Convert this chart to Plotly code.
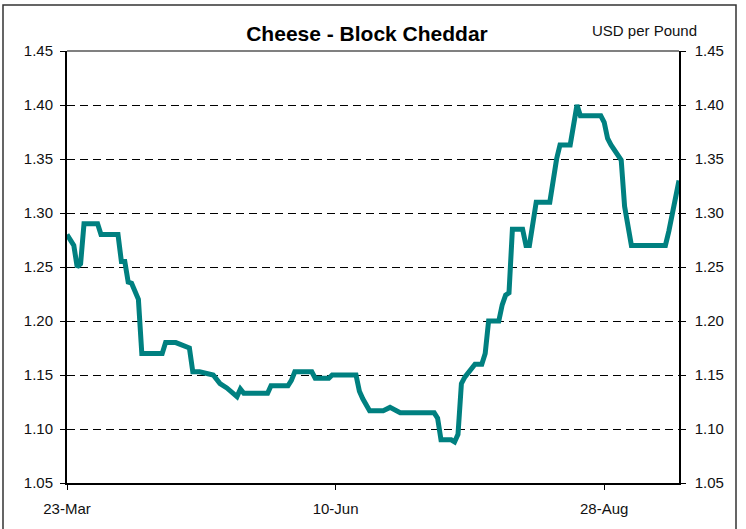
import plotly.graph_objects as go

# Data: CME block cheddar price (USD per pound), vertices
dates = [
    "2004-03-23", "2004-03-25", "2004-03-26", "2004-03-27", "2004-03-28",
    "2004-04-01", "2004-04-02", "2004-04-07", "2004-04-08", "2004-04-09",
    "2004-04-10", "2004-04-11", "2004-04-13", "2004-04-14", "2004-04-20",
    "2004-04-21", "2004-04-24", "2004-04-28", "2004-04-29", "2004-05-01",
    "2004-05-05", "2004-05-07", "2004-05-09", "2004-05-11", "2004-05-12",
    "2004-05-13", "2004-05-14", "2004-05-21", "2004-05-22", "2004-05-27",
    "2004-05-28", "2004-05-29", "2004-06-03", "2004-06-04", "2004-06-08",
    "2004-06-09", "2004-06-16", "2004-06-17", "2004-06-18", "2004-06-20",
    "2004-06-24", "2004-06-26", "2004-06-29", "2004-07-09", "2004-07-10",
    "2004-07-11", "2004-07-14", "2004-07-15", "2004-07-16", "2004-07-17",
    "2004-07-18", "2004-07-21", "2004-07-23", "2004-07-24", "2004-07-25",
    "2004-07-28", "2004-07-29", "2004-07-30", "2004-07-31", "2004-08-01",
    "2004-08-04", "2004-08-05", "2004-08-06", "2004-08-07", "2004-08-08",
    "2004-08-12", "2004-08-13", "2004-08-14", "2004-08-15", "2004-08-18",
    "2004-08-20", "2004-08-21", "2004-08-27", "2004-08-28", "2004-08-29",
    "2004-08-30", "2004-09-02", "2004-09-03", "2004-09-05", "2004-09-15",
    "2004-09-16", "2004-09-18", "2004-09-19",
]
prices = [
    1.280, 1.270, 1.250, 1.253, 1.290,
    1.290, 1.280, 1.280, 1.255, 1.255,
    1.236, 1.235, 1.220, 1.170, 1.170,
    1.180, 1.180, 1.175, 1.153, 1.153,
    1.150, 1.142, 1.138, 1.132, 1.130,
    1.137, 1.133, 1.133, 1.140, 1.140,
    1.145, 1.153, 1.153, 1.147, 1.147,
    1.150, 1.150, 1.135, 1.128, 1.117,
    1.117, 1.120, 1.115, 1.115, 1.110,
    1.090, 1.090, 1.088, 1.095, 1.142,
    1.148, 1.160, 1.160, 1.170, 1.200,
    1.200, 1.215, 1.224, 1.226, 1.285,
    1.285, 1.270, 1.270, 1.290, 1.310,
    1.310, 1.332, 1.350, 1.363, 1.363,
    1.400, 1.390, 1.390, 1.384, 1.369,
    1.363, 1.349, 1.306, 1.270, 1.270,
    1.283, 1.312, 1.330,
]

x_range = ["2004-03-23", "2004-09-19"]
x_tickvals = ["2004-03-23", "2004-06-10", "2004-08-28"]
x_ticktext = ["23-Mar", "10-Jun", "28-Aug"]
y_range = [1.05, 1.45]
y_tickvals = [1.05, 1.10, 1.15, 1.20, 1.25, 1.30, 1.35, 1.40, 1.45]
title_text = "Cheese - Block Cheddar"
unit_text = "USD per Pound"

FONT = "Arial, Liberation Sans, sans-serif"
TEAL = "#008080"

fig = go.Figure()
fig.add_trace(go.Scatter(
    x=dates, y=prices, mode="lines",
    line=dict(color=TEAL, width=5),
    showlegend=False, hoverinfo="skip",
))
# invisible copy to anchor the right-hand axis
fig.add_trace(go.Scatter(
    x=dates, y=prices, mode="lines", yaxis="y2",
    line=dict(color="rgba(0,0,0,0)", width=0),
    showlegend=False, hoverinfo="skip",
))

fig.update_layout(
    width=746, height=529,
    margin=dict(l=67, r=67, t=51, b=46),
    paper_bgcolor="white", plot_bgcolor="white",
    font=dict(family=FONT, size=15, color="#111111"),
    title=dict(text=title_text, x=367 / 746, xanchor="center",
               y=1 - 34 / 529, yanchor="middle", yref="container",
               font=dict(family=FONT, size=21, color="black", weight="bold")),
    xaxis=dict(
        type="date", range=x_range, tickvals=x_tickvals, ticktext=x_ticktext,
        showgrid=False, zeroline=False,
        showline=True, linecolor="black", linewidth=2,
        ticks="outside", ticklen=5, tickcolor="black", tickwidth=1,
        ticklabelstandoff=6,
        tickfont=dict(family=FONT, size=15, color="#111111"),
    ),
    yaxis=dict(
        range=y_range, tickvals=y_tickvals, tickformat=".2f",
        showgrid=True, gridcolor="black", gridwidth=1, griddash="8px,5px",
        zeroline=False,
        showline=True, linecolor="black", linewidth=2,
        ticks="outside", ticklen=5, tickcolor="black", tickwidth=1,
        ticklabelstandoff=4,
        tickfont=dict(family=FONT, size=15, color="#111111"),
    ),
    yaxis2=dict(
        range=y_range, tickvals=y_tickvals, tickformat=".2f",
        overlaying="y", side="right", showgrid=False, zeroline=False,
        showline=True, linecolor="black", linewidth=1.5,
        ticks="outside", ticklen=5, tickcolor="black", tickwidth=1,
        ticklabelstandoff=6,
        tickfont=dict(family=FONT, size=15, color="#111111"),
    ),
    annotations=[dict(
        text=unit_text, xref="paper", yref="paper",
        x=(699 - 67) / 612, xanchor="right",
        y=(483 - 30.5) / 432, yanchor="middle",
        showarrow=False, font=dict(family=FONT, size=15, color="#111111"),
    )],
    shapes=[
        # grey top border of the plot area
        dict(type="line", xref="paper", yref="paper", x0=0, x1=1, y0=1, y1=1,
             line=dict(color="#808080", width=2)),
        # outer chart frame
        dict(type="rect", xref="paper", yref="paper",
             x0=(3 - 67) / 612, x1=(736 - 67) / 612,
             y0=(483 - 540) / 432, y1=(483 - 5) / 432,
             line=dict(color="#333333", width=1.5), layer="below"),
    ],
)

fig.write_html("out.html")
